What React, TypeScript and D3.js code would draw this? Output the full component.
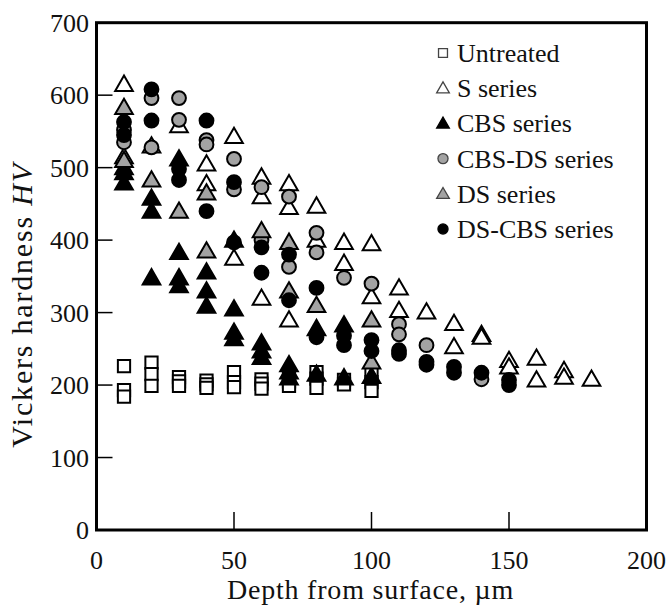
import React from "react";
import { scaleLinear, symbol, symbolTriangle, symbolSquare, symbolCircle } from "d3";

// depth (µm), hardness (HV)
const untreated: [number, number][] = [
  [10, 226], [10, 193], [10, 184], [20, 231], [20, 215], [20, 199],
  [30, 211], [30, 205], [30, 199], [40, 206], [40, 201], [40, 196],
  [50, 218], [50, 204], [50, 197], [60, 208], [60, 202], [60, 195],
  [70, 213], [70, 205], [70, 199], [80, 218], [80, 209], [80, 196],
  [90, 207], [90, 201], [100, 216], [100, 204], [100, 192],
];
const sSeries: [number, number][] = [
  [10, 615], [10, 515], [20, 530], [30, 558], [40, 505], [40, 478],
  [50, 543], [50, 375], [60, 487], [60, 460], [60, 320], [70, 478],
  [70, 445], [70, 290], [80, 447], [80, 400], [90, 397], [90, 368],
  [100, 395], [100, 322], [110, 334], [110, 303], [120, 301], [130, 285],
  [130, 253], [140, 270], [140, 266], [150, 234], [150, 225], [160, 237],
  [160, 207], [170, 220], [170, 211], [180, 208],
];
const cbsSeries: [number, number][] = [
  [10, 500], [10, 493], [10, 479], [20, 458], [20, 440], [20, 348],
  [30, 512], [30, 383], [30, 348], [30, 337], [40, 356], [40, 330],
  [40, 309], [50, 400], [50, 305], [50, 273], [50, 264], [60, 258],
  [60, 247], [60, 238], [70, 228], [70, 218], [70, 210], [80, 278],
  [80, 215], [90, 283], [90, 210], [100, 212],
];
const cbsDsSeries: [number, number][] = [
  [10, 552], [10, 535], [20, 596], [20, 528], [30, 596], [30, 566],
  [40, 538], [40, 532], [50, 512], [50, 470], [60, 473], [60, 400],
  [70, 460], [70, 363], [80, 410], [80, 383], [90, 348], [100, 340],
  [110, 284], [110, 270], [120, 255], [140, 208],
];
const dsSeries: [number, number][] = [
  [10, 583], [10, 510], [20, 483], [30, 440], [40, 465], [40, 385],
  [60, 413], [70, 397], [70, 330], [80, 310], [100, 290], [100, 232],
];
const dsCbsSeries: [number, number][] = [
  [10, 563], [10, 545], [20, 608], [20, 565], [30, 498], [30, 483],
  [40, 565], [40, 440], [50, 480], [50, 397], [60, 390], [60, 355],
  [70, 380], [70, 317], [80, 334], [80, 266], [90, 268], [90, 255],
  [100, 262], [100, 247], [110, 248], [110, 243], [120, 232], [120, 228],
  [130, 225], [130, 217], [140, 217], [150, 207], [150, 200],
];

const xTicks = [0, 50, 100, 150, 200];
const yTicks = [0, 100, 200, 300, 400, 500, 600, 700];

const GRAY = "#a3a3a3";
const series = [
  { name: "Untreated", data: untreated, shape: symbolSquare, fill: "#fff" },
  { name: "S series", data: sSeries, shape: symbolTriangle, fill: "#fff" },
  { name: "CBS series", data: cbsSeries, shape: symbolTriangle, fill: "#000" },
  { name: "CBS-DS series", data: cbsDsSeries, shape: symbolCircle, fill: GRAY },
  { name: "DS series", data: dsSeries, shape: symbolTriangle, fill: GRAY },
  { name: "DS-CBS series", data: dsCbsSeries, shape: symbolCircle, fill: "#000" },
];

const font = "'Liberation Serif', 'Times New Roman', serif";

const App = () => {
  const width = 671, height = 606;
  const left = 96.5, right = 646.5, top = 22.7, bottom = 530;

  const x = scaleLinear().domain([0, 200]).range([left, right]);
  const y = scaleLinear().domain([0, 700]).range([bottom, top]);

  const markPath = (shape: any, size: number) => symbol(shape, size)()!;
  const sizeOf = (shape: any) =>
    shape === symbolSquare ? 150 : shape === symbolTriangle ? 135 : 150;

  const points = series.map((s) => (
    <g key={s.name}>
      {s.data.map((d, i) => (
        <path
          key={i}
          d={markPath(s.shape, sizeOf(s.shape))}
          transform={`translate(${x(d[0])},${y(d[1]) + (s.shape === symbolTriangle ? 1.5 : 0)})`}
          fill={s.fill}
          stroke="#000"
          strokeWidth={2}
        />
      ))}
    </g>
  ));

  const legend = series.map((s, i) => (
    <g key={s.name} transform={`translate(443,${53 + i * 35.2})`}>
      <path
        d={markPath(s.shape, s.shape === symbolSquare ? 80 : s.shape === symbolTriangle ? 70 : 80)}
        transform={s.shape === symbolTriangle ? "translate(0,1)" : undefined}
        fill={s.fill}
        stroke={s.fill === "#000" ? "#000" : "#444"}
        strokeWidth={1.3}
      />
      <text x={14} y={9} fontSize={26} fontFamily={font} fill="#111">
        {s.name}
      </text>
    </g>
  ));

  return (
    <svg width={width} height={height} style={{ position: "absolute", left: 0, top: 0 }}>
      <rect width={width} height={height} fill="#fff" />
      {points}
      {yTicks.slice(1, -1).map((t) => (
        <line key={t} x1={left} x2={left + 16} y1={y(t)} y2={y(t)} stroke="#000" strokeWidth={1.5} />
      ))}
      {xTicks.slice(1, -1).map((t) => (
        <line key={t} x1={x(t)} x2={x(t)} y1={bottom} y2={bottom - 18} stroke="#000" strokeWidth={1.5} />
      ))}
      <rect x={left} y={top} width={right - left} height={bottom - top} fill="none" stroke="#000" strokeWidth={3} />
      {yTicks.map((t) => (
        <text key={t} x={89} y={y(t) + 9} textAnchor="end" fontSize={26} fontFamily={font} fill="#111">
          {t}
        </text>
      ))}
      {xTicks.map((t) => (
        <text key={t} x={x(t)} y={569} textAnchor="middle" fontSize={26} fontFamily={font} fill="#111">
          {t}
        </text>
      ))}
      <text
        x={(left + right) / 2 - 1}
        y={599}
        textAnchor="middle"
        fontSize={28}
        letterSpacing={0.8}
        fontFamily={font}
        fill="#111"
      >
        Depth from surface, µm
      </text>
      <text
        transform={`translate(32,305) rotate(-90)`}
        textAnchor="middle"
        fontSize={30}
        letterSpacing={1.8}
        fontFamily={font}
        fill="#111"
      >
        Vickers hardness <tspan fontStyle="italic">HV</tspan>
      </text>
      {legend}
    </svg>
  );
};

export default App;
